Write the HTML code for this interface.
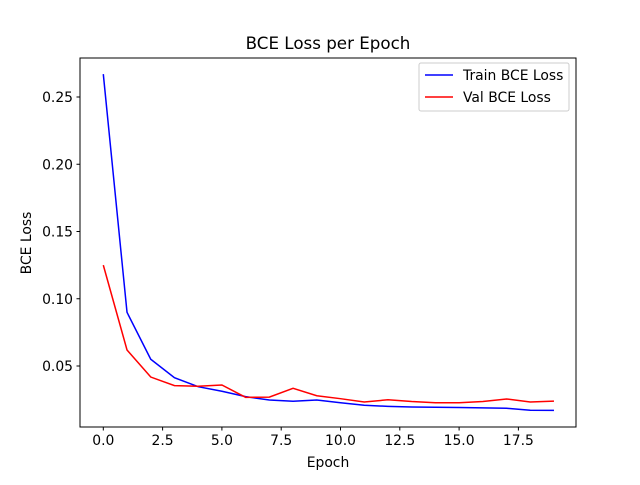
<!DOCTYPE html>
<html><head><meta charset="utf-8"><style>
body{margin:0;background:#fff;}
svg text{font-family:"DejaVu Sans","Liberation Sans",sans-serif;}
</style></head><body>
<svg width="640" height="480" xmlns="http://www.w3.org/2000/svg">
<g id="plot"></g>
</svg>
<script>
const epochs=[0,1,2,3,4,5,6,7,8,9,10,11,12,13,14,15,16,17,18,19];
const trainLoss=[0.267,0.0899,0.055,0.0413,0.0346,0.0312,0.0272,0.0247,0.0238,0.0247,0.0227,0.0208,0.0200,0.0195,0.0193,0.0191,0.0189,0.0186,0.0171,0.0170];
const valLoss=[0.125,0.0619,0.0418,0.0354,0.0349,0.0359,0.0267,0.0269,0.0334,0.0279,0.0257,0.0232,0.0249,0.0236,0.0227,0.0227,0.0236,0.0255,0.0232,0.0239];
const xTicks=[0,2.5,5,7.5,10,12.5,15,17.5];
const xTickLabels=["0.0","2.5","5.0","7.5","10.0","12.5","15.0","17.5"];
const yTicks=[0.05,0.10,0.15,0.20,0.25];
const yTickLabels=["0.05","0.10","0.15","0.20","0.25"];
const NS="http://www.w3.org/2000/svg";
const g=document.getElementById('plot');
const X=v=>103.3+v*23.72;
const Y=v=>366-(v-0.05)*1345;
function el(t,a,txt){const e=document.createElementNS(NS,t);for(const k in a)e.setAttribute(k,a[k]);if(txt!==undefined)e.textContent=txt;g.appendChild(e);return e;}
let e=el('rect',{x:80,y:58,width:496,height:369,fill:'none',stroke:'#000','stroke-width':1});


xTicks.forEach((t,i)=>{const x=X(t);
 let l=el('line',{x1:x,x2:x,y1:427,y2:430.5,stroke:'#000'});
 
 
 let s=el('text',{x:x,y:445,'font-size':13.9,'text-anchor':'middle'},xTickLabels[i]);
 
 
});
yTicks.forEach((t,i)=>{const y=Y(t);
 let l=el('line',{x1:76.5,x2:80,y1:y,y2:y,stroke:'#000'});
 
 
 let s=el('text',{x:73,y:y+5,'font-size':13.9,'text-anchor':'end'},yTickLabels[i]);
 
 
});
function line(data,color,name){const p=el('polyline',{points:data.map((v,i)=>X(epochs[i])+','+Y(v)).join(' '),fill:'none',stroke:color,'stroke-width':1.5});
 
 }
line(trainLoss,'#0000ff','train-loss-line');
line(valLoss,'#ff0000','val-loss-line');
let t=el('text',{x:328,y:49,'font-size':16.7,'text-anchor':'middle'},'BCE Loss per Epoch');


t=el('text',{x:328,y:467,'font-size':13.9,'text-anchor':'middle'},'Epoch');


t=el('text',{x:31,y:243,'font-size':13.9,'text-anchor':'middle',transform:'rotate(-90 31 243)'},'BCE Loss');


let lg=el('rect',{x:419,y:63,width:150,height:48,rx:2,fill:'#fff',stroke:'#ccc'});


[['Train BCE Loss','#0000ff',75],['Val BCE Loss','#ff0000',97]].forEach(([n,c,y])=>{
 let l=el('line',{x1:425,x2:453,y1:y,y2:y,stroke:c,'stroke-width':1.5});
 
 
 let s=el('text',{x:463,y:y+5,'font-size':13.9},n);
 
 
});
</script>
</body></html>
